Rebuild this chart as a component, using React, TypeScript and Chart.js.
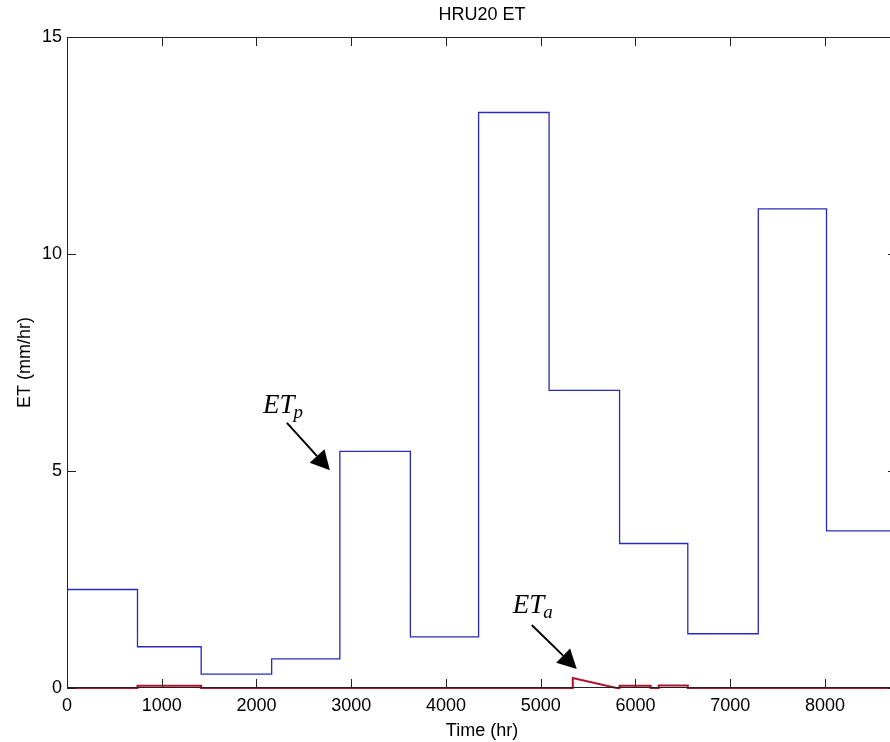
import React, { useEffect, useRef } from "react";
import { Chart, registerables } from "chart.js";

Chart.register(...registerables);

// ---- data ----
const monthStartHours = [0, 744, 1416, 2160, 2880, 3624, 4344, 5088, 5832, 6552, 7296, 8016, 8760];
const etpValues = [2.27, 0.95, 0.32, 0.67, 5.45, 1.18, 13.26, 6.86, 3.33, 1.25, 11.04, 3.62, 3.62];

const etaHours = [0, 744, 744, 1416, 1416, 5338, 5338, 5800, 5832, 5832, 6160, 6160, 6245, 6245, 6552, 6552, 8760];
const etaValues = [0, 0, 0.05, 0.05, 0, 0, 0.23, 0, 0, 0.05, 0.05, 0, 0, 0.06, 0.06, 0, 0];

const xTickValues = [0, 1000, 2000, 3000, 4000, 5000, 6000, 7000, 8000];
const yTickValues = [0, 5, 10, 15];

const titleText = "HRU20 ET";
const xLabel = "Time (hr)";
const yLabel = "ET (mm/hr)";

// annotation anchors in data coordinates
const annotations = [
  { main: "ET", sub: "p", tx: 2068, ty: 6.34, ax: 2321, ay: 6.11, bx: 2774, by: 5.02 },
  { main: "ET", sub: "a", tx: 4705, ty: 1.73, ax: 4905, ay: 1.45, bx: 5380, by: 0.44 },
];

const FONT = "'Liberation Sans', Arial, Helvetica, sans-serif";
const SERIF = "'Liberation Serif', 'Times New Roman', serif";

const CANVAS_W = 905;
const CANVAS_H = 742;

const decorPlugin = {
  id: "decor",
  afterDraw(chart: any) {
    const ctx = chart.ctx;
    const ca = chart.chartArea;
    const xs = chart.scales.x;
    const ys = chart.scales.y;
    ctx.save();
    // box
    ctx.strokeStyle = "#222";
    ctx.lineWidth = 1;
    ctx.strokeRect(Math.round(ca.left) + 0.5, Math.round(ca.top) + 0.5, Math.round(ca.right - ca.left) - 1, Math.round(ca.bottom - ca.top) - 1);
    // ticks inward
    const tl = 9;
    ctx.beginPath();
    xTickValues.forEach((v) => {
      const px = Math.round(xs.getPixelForValue(v)) + 0.5;
      ctx.moveTo(px, ca.bottom);
      ctx.lineTo(px, ca.bottom - tl);
      ctx.moveTo(px, ca.top);
      ctx.lineTo(px, ca.top + tl);
    });
    yTickValues.forEach((v) => {
      const py = Math.round(ys.getPixelForValue(v)) + 0.5;
      ctx.moveTo(ca.left, py);
      ctx.lineTo(ca.left + tl, py);
      ctx.moveTo(ca.right, py);
      ctx.lineTo(ca.right - tl, py);
    });
    ctx.stroke();

    // titles
    ctx.fillStyle = "#000";
    ctx.font = `18px ${FONT}`;
    ctx.textAlign = "center";
    ctx.textBaseline = "middle";
    ctx.fillText(titleText, (ca.left + ca.right) / 2, 15);
    ctx.fillText(xLabel, (ca.left + ca.right) / 2, 731);
    ctx.save();
    ctx.translate(25, (ca.top + ca.bottom) / 2);
    ctx.rotate(-Math.PI / 2);
    ctx.fillText(yLabel, 0, 0);
    ctx.restore();

    // annotations
    annotations.forEach((a) => {
      const tx = xs.getPixelForValue(a.tx);
      const ty = ys.getPixelForValue(a.ty);
      ctx.textAlign = "left";
      ctx.textBaseline = "alphabetic";
      ctx.font = `italic 27px ${SERIF}`;
      ctx.fillText(a.main, tx, ty);
      const w = ctx.measureText(a.main).width;
      ctx.font = `italic 19px ${SERIF}`;
      ctx.fillText(a.sub, tx + w - 1, ty + 5);

      const x1 = xs.getPixelForValue(a.ax);
      const y1 = ys.getPixelForValue(a.ay);
      const x2 = xs.getPixelForValue(a.bx);
      const y2 = ys.getPixelForValue(a.by);
      const ang = Math.atan2(y2 - y1, x2 - x1);
      const hl = 19;
      const hw = 10;
      const bx = x2 - hl * Math.cos(ang);
      const by = y2 - hl * Math.sin(ang);
      ctx.strokeStyle = "#000";
      ctx.lineWidth = 2;
      ctx.beginPath();
      ctx.moveTo(x1, y1);
      ctx.lineTo(bx, by);
      ctx.stroke();
      ctx.beginPath();
      ctx.moveTo(x2, y2);
      ctx.lineTo(bx + hw * Math.sin(ang), by - hw * Math.cos(ang));
      ctx.lineTo(bx - hw * Math.sin(ang), by + hw * Math.cos(ang));
      ctx.closePath();
      ctx.fillStyle = "#000";
      ctx.fill();
    });
    ctx.restore();
  },
};

export default function App() {
  const ref = useRef<HTMLCanvasElement | null>(null);
  useEffect(() => {
    if (!ref.current) return;
    const chart = new Chart(ref.current, {
      type: "line",
      data: {
        datasets: [
          {
            label: "ETa",
            data: etaHours.map((h, i) => ({ x: h, y: etaValues[i] })),
            borderColor: "#b0142e",
            borderWidth: 2,
            pointRadius: 0,
            fill: false,
            clip: false,
          } as any,
          {
            label: "ETp",
            data: monthStartHours.map((h, i) => ({ x: h, y: etpValues[i] })),
            borderColor: "#2a2ac0",
            borderWidth: 1.3,
            pointRadius: 0,
            stepped: "before",
            fill: false,
            clip: false,
          } as any,
        ],
      },
      options: {
        responsive: false,
        animation: false,
        devicePixelRatio: 1,
        layout: { padding: { left: 0, right: CANVAS_W - 897, top: 37, bottom: 0 } },
        plugins: { legend: { display: false }, tooltip: { enabled: false }, title: { display: false } },
        scales: {
          x: {
            type: "linear",
            min: 0,
            max: 8760,
            grid: { display: false, drawTicks: false },
            border: { display: false },
            afterBuildTicks: (s: any) => {
              s.ticks = xTickValues.map((v) => ({ value: v }));
            },
            afterFit: (s: any) => {
              s.height = 54;
            },
            ticks: {
              color: "#000",
              font: { family: FONT, size: 18 },
              padding: 7,
              maxRotation: 0,
              autoSkip: false,
              callback: (v: any) => String(v),
            },
          },
          y: {
            type: "linear",
            min: 0,
            max: 15,
            grid: { display: false, drawTicks: false },
            border: { display: false },
            afterBuildTicks: (s: any) => {
              s.ticks = yTickValues.map((v) => ({ value: v }));
            },
            afterFit: (s: any) => {
              s.width = 67;
            },
            ticks: { color: "#000", font: { family: FONT, size: 18 }, padding: 5, callback: (v: any) => String(v) },
          },
        },
      },
      plugins: [decorPlugin],
    });
    return () => chart.destroy();
  }, []);
  return (
    <div style={{ position: "fixed", left: 0, top: 0, width: 890, height: 742, overflow: "hidden", background: "#fff" }}>
      <canvas ref={ref} width={CANVAS_W} height={CANVAS_H} style={{ display: "block", width: CANVAS_W, height: CANVAS_H }} />
    </div>
  );
}
